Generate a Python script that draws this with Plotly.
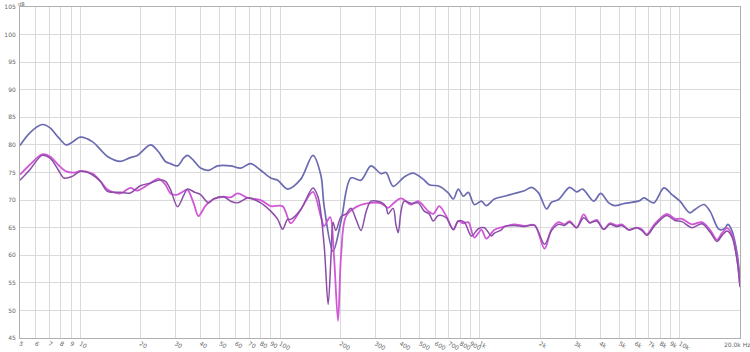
import plotly.graph_objects as go

# ---- data (frequency in Hz, level in dB) ----
blue_freq = [5.0, 5.6, 6.45, 7.07, 7.76, 8.51, 9.12, 10.0, 11.5, 12.6, 13.7, 15.9, 17.8, 19.3,
             22.5, 24.6, 26.7, 28.3, 30.7, 32.9, 34.4, 36.9, 40.0, 43.9, 48.7, 56.6, 63.5, 71.3,
             80.0, 89.8, 97.4, 109, 127, 146, 160, 166, 184, 202, 226, 254, 285, 320, 339, 368,
             418, 463, 520, 557, 626, 694, 736, 779, 826, 875, 937, 1017, 1077, 1181, 1326, 1488,
             1670, 1811, 1964, 2154, 2281, 2474, 2809, 3046, 3264, 3706, 4019, 4409, 4725, 5304,
             6307, 6604, 7410, 8323, 9129, 10010, 11237, 11905, 13210, 14160, 15700, 16700, 17400,
             18260, 19350, 20000]
blue_db = [79.9, 82.2, 83.7, 83.1, 81.4, 80.0, 80.5, 81.4, 80.6, 79.2, 77.9, 77.0, 77.7, 78.1,
           80.0, 78.8, 77.0, 76.6, 76.2, 77.6, 78.1, 77.2, 75.8, 75.4, 76.2, 76.2, 75.8, 76.6,
           75.4, 74.0, 73.6, 72.0, 73.8, 78.1, 74.5, 69.0, 60.7, 66.2, 74.0, 73.6, 76.2, 74.8, 75.0, 72.5,
           74.2, 74.9, 73.8, 72.8, 72.5, 71.3, 70.2, 72.0, 70.7, 71.4, 69.2, 69.8, 69.0, 70.2, 70.7, 71.2,
           71.7, 72.3, 71.3, 68.4, 69.6, 70.1, 72.3, 71.5, 72.0, 69.8, 71.2, 69.5, 69.0, 69.4,
           69.9, 70.4, 69.5, 72.2, 71.0, 69.8, 67.7, 68.3, 69.2, 68.0, 64.7, 64.8, 65.6,
           64.4, 60.3, 55.6]

purple_freq = [5.0, 5.6, 6.45, 7.07, 7.76, 8.31, 9.12, 10.0, 11.5, 12.6, 13.7, 15.9, 17.8, 20.0,
               22.5, 24.6, 26.7, 28.3, 30.7, 32.9, 34.4, 37.5, 40.0, 43.9, 46.5, 52.2, 56.6, 61.4,
               68.9, 80.0, 89.8, 97.4, 103, 109, 113, 127, 146, 155, 166, 174, 180, 184, 190, 202,
               214, 226, 240, 254, 270, 285, 320, 339, 347, 368, 380, 390, 403, 418, 453, 491, 526,
               557, 584, 619, 678, 736, 779, 835, 906, 982, 1053, 1141, 1181, 1280, 1326, 1488, 1670,
               1875, 2105, 2281, 2474, 2651, 2809, 3046, 3302, 3539, 3838, 4161, 4460, 4834, 5121,
               5553, 6092, 6454, 6840, 7500, 8616, 9450, 10246, 11500, 12909, 14160, 15350,
               16260, 17240, 18260, 19350, 20000]
purple_db = [73.6, 75.5, 78.1, 77.6, 75.5, 74.0, 74.3, 75.2, 74.6, 73.4, 71.6, 71.4, 71.3, 72.6,
             73.1, 73.6, 73.4, 71.9, 68.8, 70.8, 72.0, 71.4, 71.0, 69.5, 70.2, 70.6, 69.8, 69.5,
             70.4, 69.5, 68.0, 66.5, 64.7, 66.5, 66.5, 68.3, 72.2, 70.5, 62.0, 51.1, 60.0, 66.0, 64.5, 67.0,
             67.5, 68.5, 66.5, 64.5, 68.0, 69.8, 69.6, 68.8, 67.5, 68.5, 65.5, 64.1, 68.0, 69.8, 69.4, 69.5, 68.0,
             67.5, 66.2, 67.2, 66.8, 64.6, 66.2, 66.0, 63.5, 64.8, 65.0, 63.5, 64.0, 64.6, 65.2, 65.4, 65.2,
             65.4, 62.0, 64.5, 65.6, 65.4, 66.0, 65.0, 66.8, 65.9, 66.2, 64.7, 65.6, 65.2, 65.4,
             64.6, 65.0, 64.5, 63.6, 65.4, 67.2, 66.3, 66.1, 65.0, 65.7, 64.2, 62.5,
             63.6, 64.4, 63.3, 59.0, 54.2]

magenta_freq = [5.0, 5.6, 6.45, 7.07, 7.76, 8.51, 9.44, 10.0, 11.5, 12.6, 13.7, 15.9, 17.8, 19.3,
                22.5, 24.6, 26.7, 28.3, 30.7, 32.9, 34.4, 36.9, 39.1, 42.4, 46.5, 52.2, 56.6, 61.4,
                68.9, 80.0, 89.8, 103, 113, 127, 146, 160, 166, 178, 186, 195, 202, 214, 245, 285,
                320, 347, 372, 403, 453, 491, 551, 584, 626, 678, 736, 779, 826, 875, 937, 1017,
                1077, 1181, 1326, 1488, 1670, 1875, 2105, 2281, 2474, 2651, 2809, 3046, 3302, 3539,
                3838, 4161, 4460, 4834, 5121, 5553, 6092, 6454, 6840, 7500, 8616, 9450, 10246,
                11500, 12909, 14160, 15350, 16260, 17240, 18260, 19350, 20000]
magenta_db = [74.6, 76.4, 78.3, 77.9, 76.4, 75.2, 75.0, 75.3, 74.8, 73.5, 71.9, 71.2, 72.2, 71.7,
              73.1, 73.9, 72.8, 71.2, 71.0, 71.6, 71.9, 69.5, 67.1, 69.0, 70.2, 70.6, 70.5, 71.2,
              70.4, 70.0, 68.9, 68.9, 65.8, 68.3, 71.5, 67.0, 65.3, 66.9, 60.0, 48.1, 60.0, 67.1, 68.9, 69.5,
              69.4, 68.6, 69.5, 70.3, 69.2, 69.8, 68.0, 67.5, 68.9, 67.1, 64.7, 66.2, 65.8, 66.0, 63.2, 64.6,
              63.0, 64.6, 65.2, 65.6, 65.3, 65.5, 61.2, 64.7, 66.0, 65.6, 66.2, 65.0, 67.4, 65.9,
              66.4, 64.7, 65.8, 65.4, 65.6, 64.6, 65.0, 64.7, 63.8, 65.7, 67.5, 66.6, 66.6,
              65.6, 66.0, 64.6, 62.8, 64.0, 64.9, 63.7, 59.4, 54.5]

x_tick_vals = [5, 6, 7, 8, 9, 10, 20, 30, 40, 50, 60, 70, 80, 90, 100, 200, 300, 400, 500, 600,
               700, 800, 900, 1000, 2000, 3000, 4000, 5000, 6000, 7000, 8000, 9000, 10000]
x_tick_text = ["5", "6", "7", "8", "9", "10", "20", "30", "40", "50", "60", "70", "80", "90",
               "100", "200", "300", "400", "500", "600", "700", "800", "900", "1k", "2k", "3k",
               "4k", "5k", "6k", "7k", "8k", "9k", "10k"]
y_tick_vals = [45, 50, 55, 60, 65, 70, 75, 80, 85, 90, 95, 100, 105]

fig = go.Figure()
fig.add_trace(go.Scatter(x=blue_freq, y=blue_db, mode="lines",
                         line=dict(color="#6b6bb2", width=1.7, shape="spline", smoothing=0.9),
                         showlegend=False))
fig.add_trace(go.Scatter(x=magenta_freq, y=magenta_db, mode="lines",
                         line=dict(color="#d058d6", width=1.8, shape="spline", smoothing=0.9),
                         showlegend=False))
fig.add_trace(go.Scatter(x=purple_freq, y=purple_db, mode="lines",
                         line=dict(color="#8a4ea6", width=1.5, shape="spline", smoothing=0.9),
                         showlegend=False))

lab = dict(size=6, color="#666666", family="DejaVu Sans")
fig.update_layout(
    width=750, height=352,
    margin=dict(l=20, r=10, t=7, b=14, autoexpand=False),
    paper_bgcolor="white", plot_bgcolor="white",
    font=lab,
    xaxis=dict(type="log", range=[0.69897, 4.30103], tickvals=x_tick_vals + [20000],
               ticktext=x_tick_text + [""], automargin=False,
               showgrid=True, gridcolor="#dadada", gridwidth=1, zeroline=False,
               showline=True, linecolor="#b0b0b0", linewidth=1, mirror=True,
               ticks="", ticklabelstandoff=-1, tickfont=lab),
    yaxis=dict(range=[45, 105], tickvals=y_tick_vals, automargin=False,
               showgrid=True, gridcolor="#dadada", gridwidth=1, zeroline=False,
               showline=True, linecolor="#b0b0b0", linewidth=1, mirror=True,
               ticks="", ticklabelstandoff=2, tickfont=lab),
    annotations=[
        dict(text="dB", xref="paper", yref="paper", x=0, y=1, xanchor="left", yanchor="top",
             xshift=-3, yshift=7, showarrow=False, borderpad=0,
             font=dict(size=5, color="#666666", family="DejaVu Sans")),
        dict(text="20.0k Hz", xref="paper", yref="paper", x=1, y=0, xanchor="center", yanchor="top",
             xshift=-3, yshift=-1, showarrow=False, font=lab),
    ],
)

fig.write_html("out.html")
